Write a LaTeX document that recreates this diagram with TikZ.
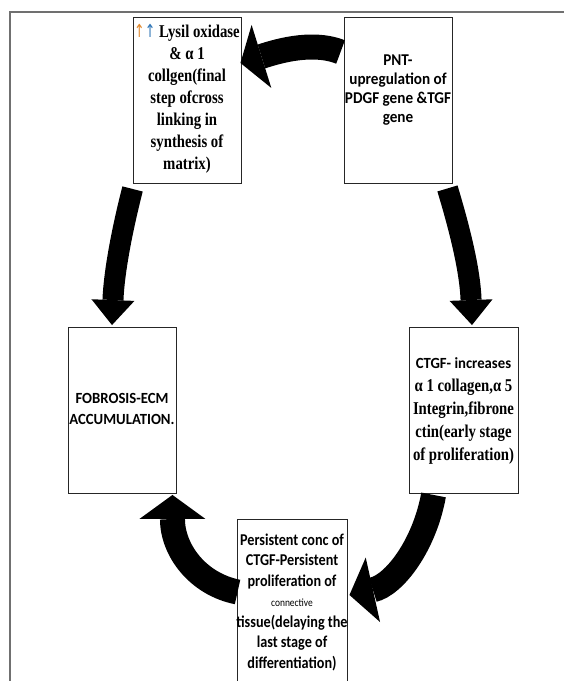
\documentclass[tikz,border=0pt]{standalone}
\usepackage{fontspec}
\setmainfont{Carlito}
\newfontfamily\serifc[FakeStretch=0.82]{Liberation Serif}
\newfontfamily\carlc[FakeStretch=0.86]{Carlito}
\newfontfamily\carln[FakeStretch=0.95]{Carlito}
\newfontfamily\carlp[FakeStretch=0.92]{Carlito}
\newfontfamily\arrf[FakeStretch=0.7]{DejaVu Sans}
\usetikzlibrary{arrows.meta}
\definecolor{framegray}{HTML}{707070}
\definecolor{upblue}{HTML}{2E75B6}
\definecolor{uporange}{HTML}{E0872B}
\begin{document}
\begin{tikzpicture}[x=1pt,y=1pt,
  box/.style={draw=black!85,line width=0.9pt,inner sep=0pt,minimum width=108pt,minimum height=166pt,align=center,fill=white},
  txt/.style={inner sep=0pt,align=center},
  toparrow/.style={line width=25pt,-{Triangle[length=22pt,width=66pt,line width=0pt]}},
  sidearrow/.style={line width=21pt,-{Triangle[length=25pt,width=43pt,line width=0pt]}},
  botarrow/.style={line width=25pt,-{Triangle[length=24pt,width=66pt,line width=0pt]}}]
\useasboundingbox (0,0) rectangle (564,681);
\clip (0,0) rectangle (564,681);
\fill[white] (0,0) rectangle (564,681);
\draw[framegray,line width=2pt] (9.5,0) -- (9.5,669) -- (564,669);

% boxes
\node[box] (lys) at (187,580.5) {};
\node[box] (pnt) at (398,581) {};
\node[box] (fib) at (122,270.5) {};
\node[box,minimum width=109pt] (ctgf) at (463.5,270.5) {};
\node[box,minimum width=110pt,minimum height=165pt] (per) at (292,79) {};

% texts
\node[txt,font=\serifc\bfseries\fontsize{18}{22}\selectfont] (lystext) at ([yshift=2]lys.center)
  {{\arrf\mdseries\textcolor{uporange}{↑}\textcolor{upblue}{↑}} Lysil oxidase\\ \& α 1\\ collgen(final\\ step ofcross\\ linking in\\ synthesis of\\ matrix)};
\node[txt,font=\carlp\bfseries\fontsize{16.5}{19}\selectfont] (pnttext) at ([yshift=10]pnt.center)
  {PNT-\\upregulation of\\PDGF gene \&TGF\\gene};
\node[txt,font=\carln\bfseries\fontsize{15.5}{21}\selectfont] (fibtext) at ([yshift=2]fib.center)
  {FOBROSIS-ECM\\ACCUMULATION.};
\node[txt,font=\serifc\bfseries\fontsize{18}{23}\selectfont] (ctgftext) at (ctgf.center)
  {{\carln\bfseries\fontsize{15.5}{23}\selectfont CTGF- increases}\\ α 1 collagen,α 5\\ Integrin,fibrone\\ ctin(early stage\\ of proliferation)};
\node[txt,font=\carlc\bfseries\fontsize{16.5}{20.5}\selectfont] (pertext) at (per.center)
  {Persistent conc of\\ CTGF-Persistent\\ proliferation of\\ {\mdseries\fontsize{11}{20.5}\selectfont connective}\\ tissue(delaying the\\ last stage of\\ differentiation)};

% arrows
\draw[toparrow] ([shift={(-3,48)}]pnt.west) .. controls +(-30,12) and +(32,10) .. ([shift={(-1,37.5)}]lys.east);
\draw[sidearrow] ([shift={(0,-5)}]lys.south west) .. controls +(-11,-43) and +(2,52) .. ([shift={(-10,2)}]fib.north);
\draw[sidearrow] ([shift={(-5,-5)}]pnt.south east) .. controls +(13,-43) and +(-2,54) .. ([shift={(8.5,2)}]ctgf.north);
\draw[botarrow] ([shift={(25,-1)}]ctgf.south west) .. controls +(-9,-50) and +(45,10) .. ([shift={(2,7)}]per.east);
\draw[botarrow] ([shift={(1,10)}]per.west) .. controls +(-40,8) and +(0,-55) .. ([shift={(-4,-1)}]fib.south east);
\end{tikzpicture}
\end{document}
